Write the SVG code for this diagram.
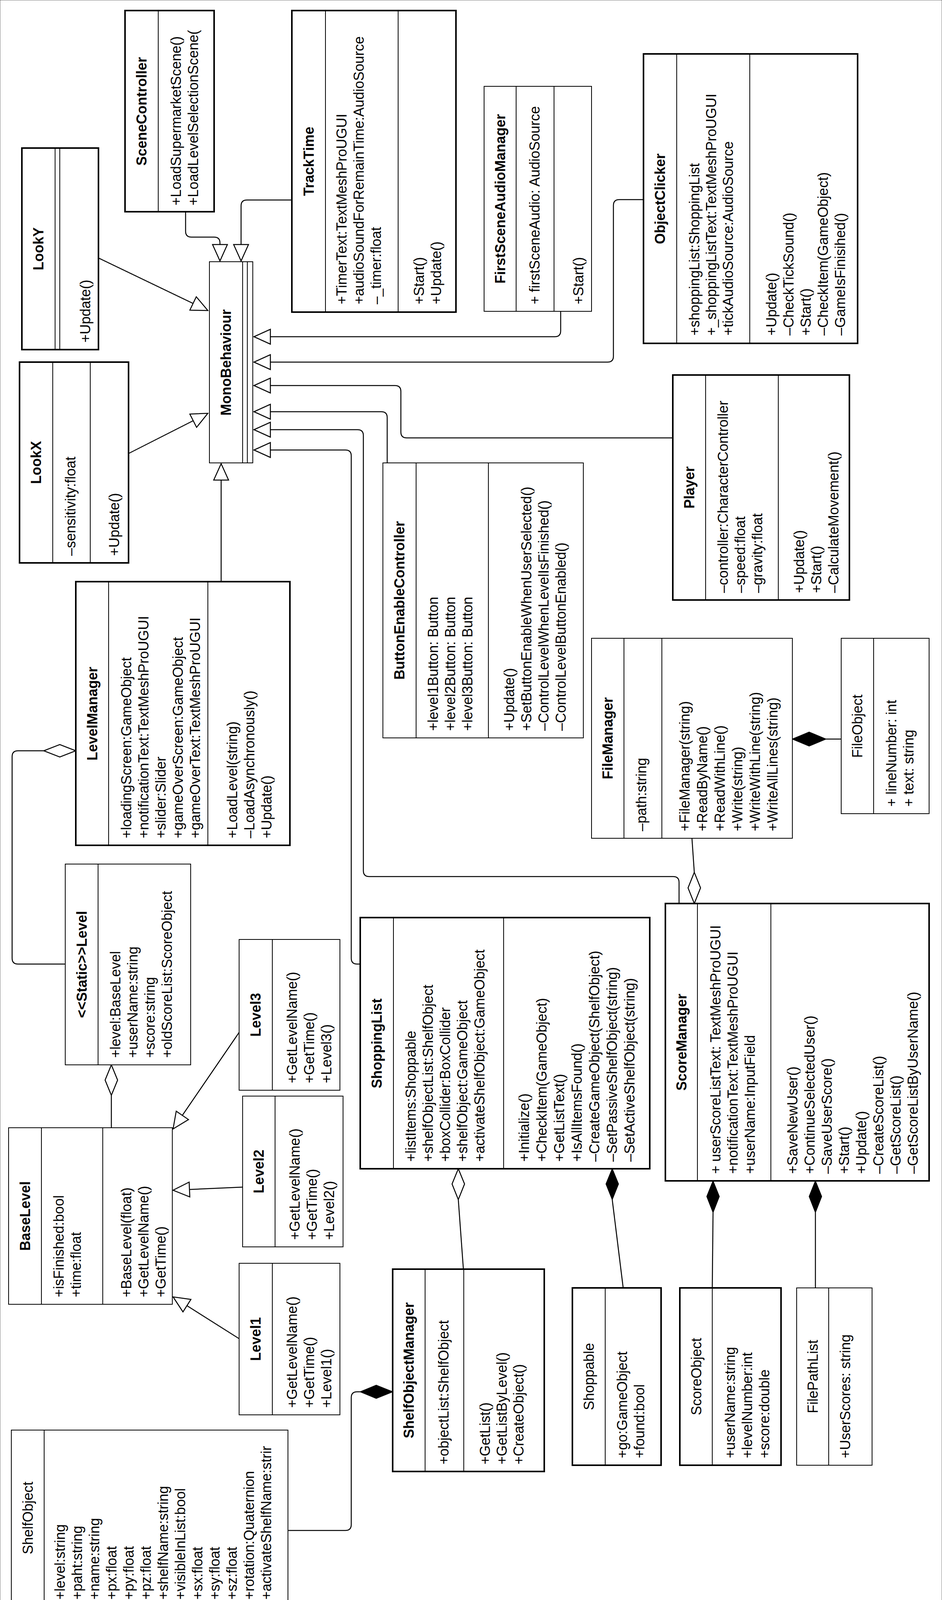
<svg xmlns="http://www.w3.org/2000/svg" width="2411" height="4135" viewBox="0 0 2411 4135">
<style>
rect{fill:#fff;stroke:#000}
.k{stroke-width:4}.n{stroke-width:2}
line{stroke:#000;stroke-width:2}
text{font-family:"Liberation Sans",Arial,sans-serif;font-size:36px;fill:#000}
.t{font-weight:bold;text-anchor:middle}
.p{text-anchor:middle}
#conn path{fill:none;stroke:#000;stroke-width:2.5}
.hd{fill:#fff;stroke:#000;stroke-width:2.5}
.fd{fill:#000;stroke:#000;stroke-width:2}
</style>
<defs>
<marker id="tri" markerUnits="userSpaceOnUse" markerWidth="46" markerHeight="42" viewBox="0 0 46 42" refX="44" refY="21" orient="auto">
<path d="M2,2 L44,21 L2,40 Z" fill="#fff" stroke="#000" stroke-width="2.5"/>
</marker>
</defs>
<rect x="0" y="0" width="2411" height="4135" fill="#fff" stroke="none"/>

<g id="conn">
<path d="M253,661 L532,795" marker-end="url(#tri)"/>
<path d="M329,1161 L532,1058" marker-end="url(#tri)"/>
<path d="M475,542 V592 Q475,607 490,607 H548 Q563,607 563,622 V668" marker-end="url(#tri)"/>
<path d="M747,512 H632 Q617,512 617,527 V668" marker-end="url(#tri)"/>
<path d="M1435,797 V847 Q1435,862 1420,862 H650" marker-end="url(#tri)"/>
<path d="M1647,511 H1585 Q1570,511 1570,526 V912 Q1570,927 1555,927 H650" marker-end="url(#tri)"/>
<path d="M1722,1121 H1041 Q1026,1121 1026,1106 V1002 Q1026,987 1011,987 H650" marker-end="url(#tri)"/>
<path d="M991,1185 V1069 Q991,1054 976,1054 H650" marker-end="url(#tri)"/>
<path d="M1738,2313 V2259 Q1738,2244 1723,2244 H945 Q930,2244 930,2229 V1115 Q930,1100 915,1100 H650" marker-end="url(#tri)"/>
<path d="M922,2468 H914 Q899,2468 899,2453 V1167 Q899,1152 884,1152 H650" marker-end="url(#tri)"/>
<path d="M566,1489 L566,1187" marker-end="url(#tri)"/>
<path d="M612,2643 L443,2890" marker-end="url(#tri)"/>
<path d="M621,3039 L443,3047" marker-end="url(#tri)"/>
<path d="M612,3427 L443,3320" marker-end="url(#tri)"/>
<path d="M112,1922 H46 Q31,1922 31,1937 V2453 Q31,2468 46,2468 H167"/>
<polygon class="hd" points="194,1922 153,1906 112,1922 153,1938"/>
<path d="M285,2804 V2887"/>
<polygon class="hd" points="285,2726 301,2765 285,2804 269,2765"/>
<path d="M1173,3071 L1186,3249"/>
<polygon class="hd" points="1173,2992 1189,3031 1173,3071 1157,3031"/>
<path d="M1567,3071 L1595,3297"/>
<polygon class="fd" points="1567,2992 1583,3031 1567,3071 1551,3031"/>
<path d="M1825,3104 L1823,3297"/>
<polygon class="fd" points="1825,3023 1841,3063 1825,3104 1809,3063"/>
<path d="M2087,3104 L2087,3297"/>
<polygon class="fd" points="2087,3023 2103,3063 2087,3104 2071,3063"/>
<path d="M1777,2233 L1771,2146"/>
<polygon class="hd" points="1777,2313 1793,2273 1777,2233 1761,2273"/>
<path d="M2114,1892 H2153"/>
<polygon class="fd" points="2028,1892 2071,1874 2114,1892 2071,1910"/>
<path d="M922,3563 H914 Q899,3563 899,3578 V3903 Q899,3918 884,3918 H737"/>
<polygon class="fd" points="1005,3563 963,3546 922,3563 963,3580"/>
</g>

<g id="SceneController" transform="translate(320,542) rotate(-90)">
<rect class="k" width="515" height="228"/><line x2="515" y1="85" y2="85"/>
<text class="t" x="257" y="55">SceneController</text>
<text x="16" y="143">+LoadSupermarketScene()</text><text x="16" y="187">+LoadLevelSelectionScene(</text>
</g>

<g id="TrackTime" transform="translate(747,799) rotate(-90)">
<rect class="k" width="772" height="420"/><line x2="772" y1="86" y2="86"/><line x2="772" y1="272" y2="272"/>
<text class="t" x="386" y="56">TrackTime</text>
<text x="20" y="140">+TimerText:TextMeshProUGUI</text><text x="20" y="184">+audioSoundForRemainTime:AudioSource</text><text x="20" y="228">–_timer:float</text>
<text x="20" y="338">+Start()</text><text x="20" y="382">+Update()</text>
</g>

<g id="LookY" transform="translate(56,895) rotate(-90)">
<rect class="k" width="516" height="196"/><line x2="516" y1="85" y2="85"/><line x2="516" y1="97" y2="97"/>
<text class="t" x="258" y="55">LookY</text>
<text x="18" y="175">+Update()</text>
</g>

<g id="LookX" transform="translate(50,1441) rotate(-90)">
<rect class="k" width="514" height="279"/><line x2="514" y1="85" y2="85"/><line x2="514" y1="181" y2="181"/>
<text class="t" x="257" y="55">LookX</text>
<text x="18" y="143">–sensitivity:float</text>
<text x="18" y="255">+Update()</text>
</g>

<g id="MonoBehaviour" transform="translate(536,1185) rotate(-90)">
<rect class="n" width="515" height="111"/><line x2="515" y1="85" y2="85"/><line x2="515" y1="97" y2="97"/>
<text class="t" x="257" y="55">MonoBehaviour</text>
</g>

<g id="FirstSceneAudioManager" transform="translate(1239,797) rotate(-90)">
<rect class="n" width="576" height="275"/><line x2="576" y1="82" y2="82"/><line x2="576" y1="179" y2="179"/>
<text class="t" x="288" y="54">FirstSceneAudioManager</text>
<text x="18" y="142">+ firstSceneAudio: AudioSource</text>
<text x="18" y="254">+Start()</text>
</g>

<g id="ObjectClicker" transform="translate(1647,879) rotate(-90)">
<rect class="k" width="741" height="548"/><line x2="741" y1="85" y2="85"/><line x2="741" y1="272" y2="272"/>
<text class="t" x="370" y="55">ObjectClicker</text>
<text x="20" y="143">+shoppingList:ShoppingList</text><text x="20" y="186">+_shoppingListText:TextMeshProUGUI</text><text x="20" y="229">+tickAudioSource:AudioSource</text>
<text x="20" y="340">+Update()</text><text x="20" y="384">–CheckTickSound()</text><text x="20" y="428">+Start()</text><text x="20" y="472">–CheckItem(GameObject)</text><text x="20" y="516">–GameIsFinisihed()</text>
</g>

<g id="Player" transform="translate(1722,1536) rotate(-90)">
<rect class="k" width="576" height="452"/><line x2="576" y1="84" y2="84"/><line x2="576" y1="270" y2="270"/>
<text class="t" x="288" y="55">Player</text>
<text x="18" y="141">–controller:CharacterController</text><text x="18" y="185">–speed:float</text><text x="18" y="229">–gravity:float</text>
<text x="18" y="336">+Update()</text><text x="18" y="380">+Start()</text><text x="18" y="424">–CalculateMovement()</text>
</g>

<g id="ButtonEnableController" transform="translate(980,1889) rotate(-90)">
<rect class="n" width="704" height="513"/><line x2="704" y1="85" y2="85"/><line x2="704" y1="270" y2="270"/>
<text class="t" x="352" y="55">ButtonEnableController</text>
<text x="18" y="141">+level1Button: Button</text><text x="18" y="185">+level2Button: Button</text><text x="18" y="229">+level3Button: Button</text>
<text x="18" y="336">+Update()</text><text x="18" y="380">+SetButtonEnableWhenUserSelected()</text><text x="18" y="424">–ControlLevelWhenLevelIsFinished()</text><text x="18" y="468">–ControlLevelButtonEnabled()</text>
</g>

<g id="FileManager" transform="translate(1514,2146) rotate(-90)">
<rect class="n" width="512" height="514"/><line x2="512" y1="83" y2="83"/><line x2="512" y1="180" y2="180"/>
<text class="t" x="256" y="54">FileManager</text>
<text x="18" y="140">–path:string</text>
<text x="18" y="251">+FileManager(string)</text><text x="18" y="296">+ReadByName()</text><text x="18" y="341">+ReadWithLine()</text><text x="18" y="386">+Write(string)</text><text x="18" y="431">+WriteWithLine(string)</text><text x="18" y="476">+WriteAllLines(string)</text>
</g>

<g id="FileObject" transform="translate(2153,2083) rotate(-90)">
<rect class="n" width="449" height="225"/><line x2="449" y1="83" y2="83"/>
<text class="p" x="224" y="54">FileObject</text>
<text x="18" y="141">+ lineNumber: int</text><text x="18" y="185">+ text: string</text>
</g>

<g id="LevelManager" transform="translate(194,2164) rotate(-90)">
<rect class="k" width="675" height="548"/><line x2="675" y1="84" y2="84"/><line x2="675" y1="338" y2="338" stroke="#777"/>
<text class="t" x="337" y="55">LevelManager</text>
<text x="18" y="142">+loadingScreen:GameObject</text><text x="18" y="186">+notificationText:TextMeshProUGUI</text><text x="18" y="230">+slider:Slider</text><text x="18" y="274">+gameOverScreen:GameObject</text><text x="18" y="318">+gameOverText:TextMeshProUGUI</text>
<text x="18" y="413">+LoadLevel(string)</text><text x="18" y="457">–LoadAsynchronously()</text><text x="18" y="501">+Update()</text>
</g>

<g id="Level" transform="translate(167,2726) rotate(-90)">
<rect class="n" width="514" height="321"/><line x2="514" y1="84" y2="84"/>
<text class="t" x="257" y="55">&lt;&lt;Static&gt;&gt;Level</text>
<text x="18" y="141">+level:BaseLevel</text><text x="18" y="185">+userName:string</text><text x="18" y="229">+score:string</text><text x="18" y="273">+oldScoreList:ScoreObject</text>
</g>

<g id="Level3" transform="translate(612,2791) rotate(-90)">
<rect class="n" width="386" height="258"/><line x2="386" y1="85" y2="85"/>
<text class="t" x="193" y="55">Level3</text>
<text x="18" y="148">+GetLevelName()</text><text x="18" y="192">+GetTime()</text><text x="18" y="236">+Level3()</text>
</g>

<g id="Level2" transform="translate(621,3192) rotate(-90)">
<rect class="n" width="386" height="257"/><line x2="386" y1="83" y2="83"/>
<text class="t" x="193" y="54">Level2</text>
<text x="18" y="146">+GetLevelName()</text><text x="18" y="190">+GetTime()</text><text x="18" y="234">+Level2()</text>
</g>

<g id="Level1" transform="translate(612,3622) rotate(-90)">
<rect class="n" width="388" height="258"/><line x2="388" y1="85" y2="85"/>
<text class="t" x="194" y="55">Level1</text>
<text x="18" y="148">+GetLevelName()</text><text x="18" y="192">+GetTime()</text><text x="18" y="236">+Level1()</text>
</g>

<g id="BaseLevel" transform="translate(22,3339) rotate(-90)">
<rect class="n" width="452" height="419"/><line x2="452" y1="84" y2="84"/><line x2="452" y1="241" y2="241"/>
<text class="t" x="226" y="55">BaseLevel</text>
<text x="18" y="141">+isFinished:bool</text><text x="18" y="185">+time:float</text>
<text x="18" y="314">+BaseLevel(float)</text><text x="18" y="358">+GetLevelName()</text><text x="18" y="402">+GetTime()</text>
</g>

<g id="ShelfObject" transform="translate(29,4111) rotate(-90)">
<rect class="n" width="450" height="708"/><line x2="450" y1="84" y2="84"/>
<text class="p" x="225" y="55">ShelfObject</text>
<text x="16" y="137">+level:string</text><text x="16" y="181">+paht:string</text><text x="16" y="225">+name:string</text><text x="16" y="269">+px:float</text><text x="16" y="313">+py:float</text><text x="16" y="357">+pz:float</text><text x="16" y="401">+shelfName:string</text><text x="16" y="445">+visibleInList:bool</text><text x="16" y="489">+sx:float</text><text x="16" y="533">+sy:float</text><text x="16" y="577">+sz:float</text><text x="16" y="621">+rotation:Quaternion</text><text x="16" y="665">+activateShelfName:strir</text>
</g>

<g id="ShelfObjectManager" transform="translate(1005,3767) rotate(-90)">
<rect class="k" width="518" height="388"/><line x2="518" y1="83" y2="83"/><line x2="518" y1="182" y2="182"/>
<text class="t" x="259" y="54">ShelfObjectManager</text>
<text x="18" y="143">+objectList:ShelfObject</text>
<text x="18" y="249">+GetList()</text><text x="18" y="292">+GetListByLevel()</text><text x="18" y="335">+CreateObject()</text>
</g>

<g id="ShoppingList" transform="translate(922,2992) rotate(-90)">
<rect class="k" width="643" height="741"/><line x2="643" y1="85" y2="85"/><line x2="643" y1="367" y2="367"/>
<text class="t" x="321" y="55">ShoppingList</text>
<text x="18" y="142">+listItems:Shoppable</text><text x="18" y="186">+shelfObjectList:ShelfObject</text><text x="18" y="230">+boxCollider:BoxCollider</text><text x="18" y="274">+shelfObject:GameObject</text><text x="18" y="318">+activateShelfObject:GameObject</text>
<text x="18" y="432">+Initialize()</text><text x="18" y="477">+CheckItem(GameObject)</text><text x="18" y="522">+GetListText()</text><text x="18" y="567">+IsAllItemsFound()</text><text x="18" y="612">–CreateGameObject(ShelfObject)</text><text x="18" y="657">–SetPassiveShelfObject(string)</text><text x="18" y="702">–SetActiveShelfObject(string)</text>
</g>

<g id="ScoreManager" transform="translate(1703,3023) rotate(-90)">
<rect class="k" width="710" height="675"/><line x2="710" y1="82" y2="82"/><line x2="710" y1="270" y2="270"/>
<text class="t" x="355" y="54">ScoreManager</text>
<text x="18" y="141">+ userScoreListText: TextMeshProUGUI</text><text x="18" y="185">+notificationText:TextMeshProUGUI</text><text x="18" y="229">+userName:InputField</text>
<text x="18" y="338">+SaveNewUser()</text><text x="18" y="382">+ContinueSelectedUser()</text><text x="18" y="426">–SaveUserScore()</text><text x="18" y="470">+Start()</text><text x="18" y="514">+Update()</text><text x="18" y="558">–CreateScoreList()</text><text x="18" y="602">–GetScoreList()</text><text x="18" y="646">–GetScoreListByUserName()</text>
</g>

<g id="Shoppable" transform="translate(1465,3751) rotate(-90)">
<rect class="k" width="454" height="227"/><line x2="454" y1="84" y2="84"/>
<text class="p" x="227" y="55">Shoppable</text>
<text x="18" y="140">+go:GameObject</text><text x="18" y="184">+found:bool</text>
</g>

<g id="ScoreObject" transform="translate(1740,3751) rotate(-90)">
<rect class="k" width="454" height="259"/><line x2="454" y1="83" y2="83" stroke-width="4"/>
<text class="p" x="227" y="55">ScoreObject</text>
<text x="18" y="141">+userName:string</text><text x="18" y="185">+levelNumber:int</text><text x="18" y="229">+score:double</text>
</g>

<g id="FilePathList" transform="translate(2039,3751) rotate(-90)">
<rect class="n" width="454" height="193"/><line x2="454" y1="82" y2="82"/>
<text class="p" x="227" y="54">FilePathList</text>
<text x="18" y="137">+UserScores: string</text>
</g>
</svg>
